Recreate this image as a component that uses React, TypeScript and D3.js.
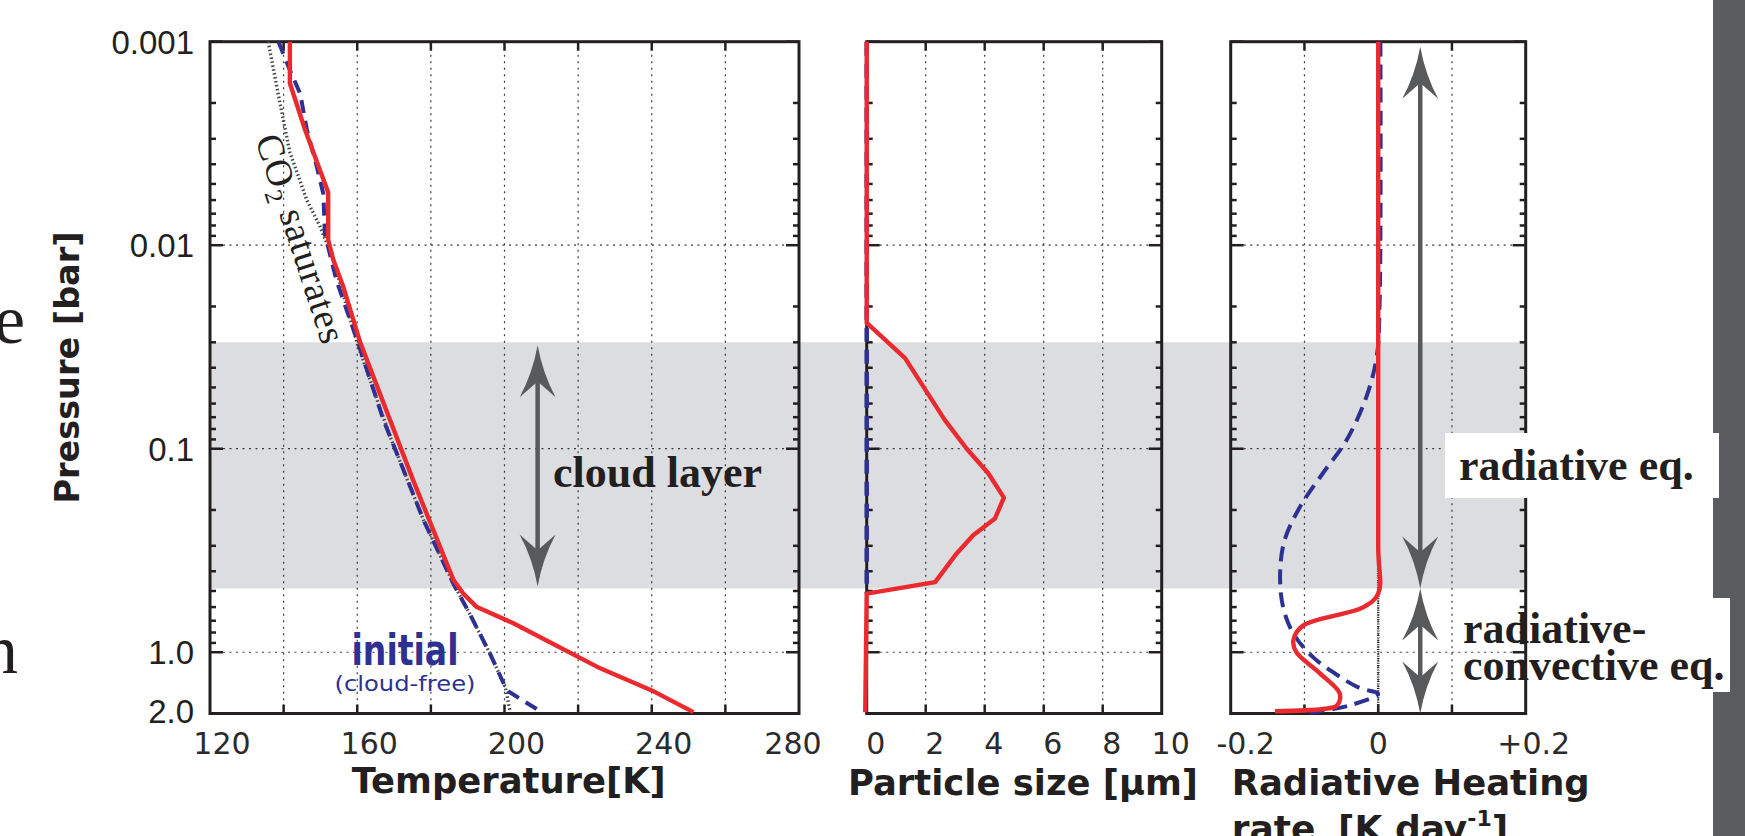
import React from "react";
import * as d3 from "d3";

// ---- values ----
const pressureTickValues = [0.001, 0.01, 0.1, 1, 2];
const pressureTickLabels = ["0.001", "0.01", "0.1", "1.0", "2.0"];
const tempTickLabels = [120, 160, 200, 240, 280];
const sizeTickLabels = [0, 2, 4, 6, 8, 10];
const heatTickValues = [-0.2, 0, 0.2];
const heatTickLabels = ["-0.2", "0", "+0.2"];

// cloud layer bounds [bar]
const cloudLayer = [0.03, 0.486];

// temperature with clouds (red)
const finalP = [0.001, 0.0016, 0.0027, 0.0035, 0.0055, 0.0094, 0.0118, 0.016, 0.03, 0.143, 0.44, 0.515, 0.6, 0.72, 1.2, 1.54, 1.97];
const finalT = [141.7, 141.7, 145.8, 148.1, 152.1, 152.1, 153.5, 156.2, 160.8, 175.2, 186.1, 188.8, 192.5, 202.4, 226, 240, 251.3];
// initial cloud-free temperature (blue dashed)
const initialP = [0.001, 0.00138, 0.0018, 0.0027, 0.0041, 0.0056, 0.0088, 0.015, 0.029, 0.072, 0.224, 0.46, 0.65, 1.02, 1.48, 1.56, 1.97];
const initialT = [138.6, 141.7, 144.5, 146.3, 149.0, 150.8, 151.2, 154.4, 159.9, 167.1, 178.0, 186.1, 190.6, 196.1, 200.2, 201.1, 210.1];
// CO2 saturation temperature (dotted)
const satP = [0.001, 0.002, 0.0035, 0.006, 0.0081, 0.0118, 0.02, 0.03, 0.087, 0.224, 0.46, 0.65, 1.02, 1.48, 1.95];
const satT = [135.8, 139.0, 141.7, 146.3, 149.9, 153.5, 157.1, 159.9, 168.9, 178.0, 186.1, 190.6, 196.1, 200.2, 201.5];

// particle size [um]
const sizeP = [0.001, 0.0241, 0.0359, 0.0724, 0.1, 0.132, 0.174, 0.22, 0.266, 0.327, 0.452, 0.515, 1.97];
const sizeR = [0, 0, 1.3, 2.65, 3.39, 4.12, 4.65, 4.35, 3.61, 3.05, 2.32, 0, -0.05];
const sizeInitP = [0.001, 0.515];
const sizeInitR = [0, 0];

// radiative heating rate [K/day]
const heatP = [0.001, 0.3, 0.515, 0.6, 0.74, 0.873, 1.0, 1.27, 1.6, 1.83, 1.9, 1.95];
const heatQ = [0, 0, 0, -0.02, -0.102, -0.115, -0.111, -0.079, -0.052, -0.056, -0.075, -0.14];
const heatInitP = [0.001, 0.0186, 0.0353, 0.0556, 0.0908, 0.132, 0.193, 0.282, 0.411, 0.6, 0.81, 1.06, 1.32, 1.5, 1.6, 1.83, 2.0];
const heatInitQ = [0.003, 0.002, -0.002, -0.016, -0.043, -0.075, -0.106, -0.127, -0.133, -0.129, -0.115, -0.088, -0.052, -0.025, 0.0, -0.04, -0.1];

const W = 1745;
const H = 836;
const TOP = 41.7;
const BOTTOM = 713.5;

const RED = "#ea2a2e";
const BLUE = "#2e3192";
const INK = "#231f20";
const ARROW = "#58595b";
const SERIF = "'Liberation Serif', 'Times New Roman', serif";
const SANS = "'DejaVu Sans', sans-serif";
const HELV = "'Liberation Sans', Arial, sans-serif";

const y = d3.scaleLog().domain([0.001, 2]).range([TOP, BOTTOM]);
const xT = d3.scaleLinear().domain([120, 280]).range([210, 799]);
const xS = d3.scaleLinear().domain([0, 10]).range([866.7, 1161.7]);
const xH = d3.scaleLinear().domain([-0.2, 0.2]).range([1230.7, 1525.7]);

type Scale = d3.ScaleLinear<number, number>;

const profile = (xs: Scale, P: number[], V: number[], curve: d3.CurveFactory = d3.curveLinear) =>
  d3
    .line<[number, number]>()
    .x(d => xs(d[1]))
    .y(d => y(d[0]))
    .curve(curve)(d3.zip(P, V) as [number, number][]) || "";

const isMajor = (t: number) => Math.abs(Math.log10(t) - Math.round(Math.log10(t))) < 1e-9;

// frame, ticks and dotted grid of one panel
function Frame({ xs, inner }: { xs: Scale; inner: number[] }) {
  const [x0, x1] = xs.range();
  const grid = { stroke: "#3a3a3a", strokeWidth: 1.2, strokeDasharray: "2 4.5" };
  return (
    <g>
      {inner.map(v => (
        <line key={"gv" + v} x1={xs(v)} x2={xs(v)} y1={TOP} y2={BOTTOM} {...grid} />
      ))}
      {[0.01, 0.1, 1].map(p => (
        <line key={"gh" + p} x1={x0} x2={x1} y1={y(p)} y2={y(p)} {...grid} />
      ))}
      {y.ticks().map(t => {
        const len = isMajor(t) ? 13 : 6;
        return (
          <g key={"yt" + t} stroke={INK} strokeWidth={2.5}>
            <line x1={x0} x2={x0 + len} y1={y(t)} y2={y(t)} />
            <line x1={x1} x2={x1 - len} y1={y(t)} y2={y(t)} />
          </g>
        );
      })}
      {inner.map(v => (
        <g key={"xt" + v} stroke={INK} strokeWidth={2.5}>
          <line x1={xs(v)} x2={xs(v)} y1={TOP} y2={TOP + 9} />
          <line x1={xs(v)} x2={xs(v)} y1={BOTTOM} y2={BOTTOM - 9} />
        </g>
      ))}
      <rect x={x0} y={TOP} width={x1 - x0} height={BOTTOM - TOP} fill="none" stroke={INK} strokeWidth={3} />
    </g>
  );
}

// barbed arrow head; dir = 1 points up (body below tip), -1 points down
const head = (x: number, tip: number, dir: number) => {
  const L = 52, hw = 18, notch = 38;
  const s = dir;
  return `M${x},${tip} Q${x + 5},${tip + s * 28} ${x + hw},${tip + s * L} L${x + 2},${tip + s * notch} L${x - 2},${tip + s * notch} L${x - hw},${tip + s * L} Q${x - 5},${tip + s * 28} ${x},${tip} Z`;
};

function DoubleArrow({ x, y1, y2 }: { x: number; y1: number; y2: number }) {
  return (
    <g fill={ARROW}>
      <line x1={x} x2={x} y1={y1 + 20} y2={y2 - 20} stroke={ARROW} strokeWidth={4.5} />
      <path d={head(x, y1, 1)} />
      <path d={head(x, y2, -1)} />
    </g>
  );
}

export default function App() {
  const bandTop = y(cloudLayer[0]);
  const bandBottom = y(cloudLayer[1]);
  const tickY = BOTTOM + 40;
  const arrowX = xH(0.057);
  const tickFont = { fontFamily: SANS, fontSize: 30, fill: "#2b2b2b" };

  return (
    <svg width={W} height={H} style={{ position: "absolute", left: 0, top: 0, background: "#fff" }}>
      <rect x={0} y={0} width={W} height={H} fill="#fff" />

      {/* clipped words from the page text */}
      <text x={-6} y={343} fontFamily={SERIF} fontSize={70} fill={INK}>e</text>
      <text x={-17} y={673} fontFamily={SERIF} fontSize={70} fill={INK}>n</text>

      {/* cloud layer band */}
      <rect x={xT.range()[0]} y={bandTop} width={xH.range()[1] - xT.range()[0]} height={bandBottom - bandTop} fill="#dcdde0" />

      <Frame xs={xT} inner={xT.ticks(8).slice(1, -1)} />
      <Frame xs={xS} inner={xS.ticks(5).slice(1, -1)} />
      <Frame xs={xH} inner={xH.ticks(4).slice(1, -1)} />

      {/* zero line of heating rate */}
      <line x1={xH(0)} x2={xH(0)} y1={TOP} y2={BOTTOM} stroke="#2a2a2a" strokeWidth={2.6} strokeDasharray="1 1.3" />

      {/* temperature panel */}
      <path d={profile(xT, satP, satT)} fill="none" stroke="#4a4a4a" strokeWidth={3.4} strokeDasharray="1.6 2.4" />
      <path d={profile(xT, initialP, initialT)} fill="none" stroke={BLUE} strokeWidth={4} strokeDasharray="13 8" />
      <path d={profile(xT, finalP, finalT)} fill="none" stroke={RED} strokeWidth={4.4} strokeLinejoin="round" />

      {/* particle size panel */}
      <path d={profile(xS, sizeInitP, sizeInitR)} fill="none" stroke={BLUE} strokeWidth={4.5} strokeDasharray="14 8" />
      <path d={profile(xS, sizeP, sizeR)} fill="none" stroke={RED} strokeWidth={4.4} strokeLinejoin="round" />

      {/* heating rate panel */}
      <path d={profile(xH, heatInitP, heatInitQ, d3.curveCatmullRom.alpha(0.5))} fill="none" stroke={BLUE} strokeWidth={4} strokeDasharray="15 8" />
      <path d={profile(xH, heatP, heatQ, d3.curveCatmullRom.alpha(0.5))} fill="none" stroke={RED} strokeWidth={4.4} strokeLinejoin="round" />

      {/* arrows */}
      <DoubleArrow x={xT(209)} y1={bandTop + 3} y2={bandBottom - 2} />
      <DoubleArrow x={arrowX} y1={TOP + 5} y2={bandBottom} />
      <DoubleArrow x={arrowX} y1={bandBottom} y2={BOTTOM} />

      {/* dark strip at the right edge */}
      <rect x={1713} y={0} width={W - 1713} height={H} fill="#5b5c5f" />

      {/* annotations */}
      <text x={553} y={487} fontFamily={SERIF} fontWeight="bold" fontSize={44} fill={INK}>cloud layer</text>
      <rect x={1445} y={433} width={274} height={65} fill="#fff" />
      <text x={1459} y={480} fontFamily={SERIF} fontWeight="bold" fontSize={44} fill={INK}>radiative eq.</text>
      <rect x={1528} y={598} width={202} height={94} fill="#fff" />
      <text x={1463} y={643} fontFamily={SERIF} fontWeight="bold" fontSize={44} fill={INK}>radiative-</text>
      <text x={1463} y={680} fontFamily={SERIF} fontWeight="bold" fontSize={44} fill={INK}>convective eq.</text>

      <g transform="translate(255,139) rotate(72)">
        <text x={0} y={0} fontFamily={SERIF} fontSize={38} letterSpacing={0.8} fill={INK}>
          CO<tspan fontSize={25} dy={8}>2</tspan>
          <tspan dy={-8}> saturates</tspan>
        </text>
      </g>

      <text x={405} y={665} textAnchor="middle" fontFamily={SANS} fontWeight="bold" fontSize={42} fill={BLUE} textLength={107} lengthAdjust="spacingAndGlyphs">initial</text>
      <text x={405} y={691} textAnchor="middle" fontFamily={SANS} fontSize={22} fill={BLUE} textLength={141} lengthAdjust="spacingAndGlyphs">(cloud-free)</text>

      {/* y tick labels */}
      {pressureTickValues.map((p, i) => (
        <text key={"yl" + p} x={194} y={y(p) + (i === pressureTickValues.length - 1 ? 9 : 12)} textAnchor="end" fontFamily={HELV} fontSize={33} fill={INK}>
          {pressureTickLabels[i]}
        </text>
      ))}

      {/* x tick labels */}
      {tempTickLabels.map((t, i) => (
        <text key={"tl" + t} x={i === tempTickLabels.length - 1 ? xT(t) - 6 : xT(t) + 12} y={tickY} textAnchor="middle" {...tickFont}>
          {t}
        </text>
      ))}
      {sizeTickLabels.map(t => (
        <text key={"sl" + t} x={xS(t) + 9} y={tickY} textAnchor="middle" {...tickFont}>
          {t}
        </text>
      ))}
      {heatTickValues.map((t, i) => (
        <text key={"hl" + t} x={xH(t) + (t < 0 ? 15 : t > 0 ? 8 : 0)} y={tickY} textAnchor="middle" {...tickFont}>
          {heatTickLabels[i]}
        </text>
      ))}

      {/* axis titles */}
      <text transform="translate(79,367.5) rotate(-90)" textAnchor="middle" fontFamily={SANS} fontWeight="bold" fontSize={33} fill={INK} textLength={272} lengthAdjust="spacingAndGlyphs">
        Pressure [bar]
      </text>
      <text x={351.7} y={793} fontFamily={SANS} fontWeight="bold" fontSize={36} fill={INK} textLength={314} lengthAdjust="spacingAndGlyphs">
        Temperature[K]
      </text>
      <text x={848} y={795} fontFamily={SANS} fontWeight="bold" fontSize={36} fill={INK} textLength={350} lengthAdjust="spacingAndGlyphs">
        Particle size [μm]
      </text>
      <text x={1231.7} y={795} fontFamily={SANS} fontWeight="bold" fontSize={36} fill={INK} textLength={358} lengthAdjust="spacingAndGlyphs">
        Radiative Heating
      </text>
      <text y={841} fontFamily={SANS} fontWeight="bold" fontSize={36} fill={INK}>
        <tspan x={1231.7}>rate</tspan>
        <tspan x={1338}>[K day</tspan>
        <tspan fontSize={22} dy={-15}>-1</tspan>
        <tspan dy={15}>]</tspan>
      </text>
    </svg>
  );
}
